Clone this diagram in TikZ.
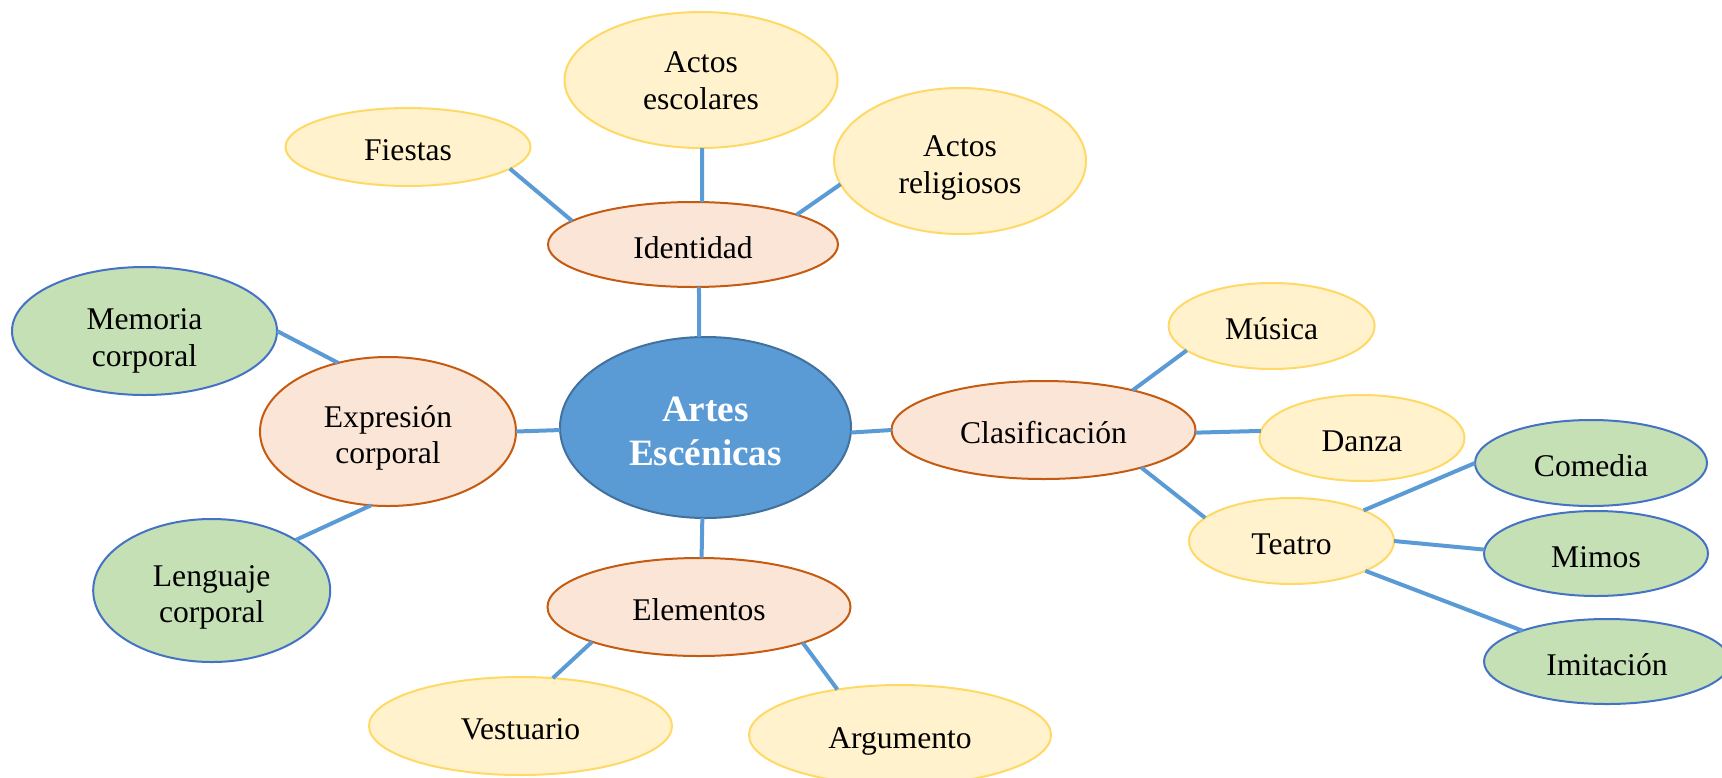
\documentclass[tikz,border=0pt]{standalone}
\usepackage{fontspec}
\setmainfont{Liberation Serif}
\usepackage{xcolor}
\usetikzlibrary{shapes.geometric}
\definecolor{coreFill}{HTML}{5B9BD5}
\definecolor{coreLine}{HTML}{41719C}
\definecolor{branchFill}{HTML}{FBE5D6}
\definecolor{branchLine}{HTML}{C55A11}
\definecolor{leafFill}{HTML}{FFF2CC}
\definecolor{leafLine}{HTML}{FFD966}
\definecolor{greenFill}{HTML}{C5E0B4}
\definecolor{greenLine}{HTML}{4472C4}
\definecolor{linkBlue}{HTML}{5B9BD5}
\tikzset{
ell/.style 2 args = {ellipse, inner sep=0pt, outer sep=0pt, align=center,
              minimum width=#1, minimum height=#2, line width=1pt,
              font=\fontsize{15.8}{18.3}\selectfont,
              text height=17.2pt, text depth=3.4pt}
}
\tikzset{
twoline/.style = {text height=#1, text depth=3.4pt},
twoline/.default = 35.7pt % moves both lines down a little
}
\tikzset{
core/.style = {draw=coreLine, fill=coreFill, text=white,
               font=\fontsize{18.6}{22}\selectfont\bfseries,
               text height=37.8pt, text depth=0pt}
}
\tikzset{
branch/.style = {draw=branchLine, fill=branchFill},
leaf/.style = {draw=leafLine, fill=leafFill},
subleaf/.style = {draw=greenLine, fill=greenFill}
}
\tikzset{
link/.style = {draw=linkBlue, line width=2pt}
}

\begin{document}
\begin{tikzpicture}[x=0.5pt, y=-0.5pt]
\useasboundingbox (0,0) rectangle (1722,777);

\node[ell={145.5pt}{90.5pt}, core] (artesEll) at (705.5,427.5) {Artes\\Escénicas};
\node[ell={145pt}{42.5pt}, branch] (identidadEll) at (693,244.5) {Identidad};
\node[ell={128pt}{74.5pt}, branch, twoline] (expresionEll) at (388,431.5) {Expresión\\corporal};
\node[ell={151.5pt}{49pt}, branch] (elementosEll) at (699,607) {Elementos};
\node[ell={152pt}{49pt}, branch] (clasifEll) at (1043.5,430) {Clasificación};
\node[ell={122.5pt}{39pt}, leaf] (fiestasEll) at (408,147) {Fiestas};
\node[ell={136.5pt}{68pt}, leaf, twoline=32.4pt] (escolaresEll) at (701,80) {Actos\\escolares};
\node[ell={126pt}{73pt}, leaf, twoline] (religiososEll) at (960,161) {Actos\\religiosos};
\node[ell={132.5pt}{64pt}, subleaf, twoline=38.7pt] (memoriaEll) at (144.5,331) {Memoria\\corporal};
\node[ell={118.5pt}{71.5pt}, subleaf, twoline] (lenguajeEll) at (211.7,590.5) {Lenguaje\\corporal};
\node[ell={151.5pt}{49pt}, leaf] (vestuarioEll) at (520.5,726) {Vestuario};
\node[ell={151pt}{50pt}, leaf] (argumentoEll) at (900,735) {Argumento};
\node[ell={103pt}{43pt}, leaf] (musicaEll) at (1271.6,326) {Música};
\node[ell={102.5pt}{43pt}, leaf] (danzaEll) at (1362,438) {Danza};
\node[ell={102.5pt}{43pt}, leaf] (teatroEll) at (1291.5,541) {Teatro};
\node[ell={116pt}{43pt}, subleaf] (comediaEll) at (1591,463) {Comedia};
\node[ell={112pt}{42.5pt}, subleaf] (mimosEll) at (1596,553.5) {Mimos};
\node[ell={123pt}{42.5pt}, subleaf] (imitacionEll) at (1607,661.5) {Imitación};

\draw[link] (identidadEll.-82) -- (artesEll.94);
\draw[link] (escolaresEll.-89) -- (identidadEll.78);
\draw[link] (fiestasEll.-12) -- (identidadEll.169.6);
\draw[link] (religiososEll.191.8) -- (identidadEll.16.3);
\draw[link] (expresionEll.0) -- (artesEll.181.6);
\draw[link] (memoriaEll.-0.4) -- (expresionEll.126.5);
\draw[link] (lenguajeEll.31.1) -- (expresionEll.-103.4);
\draw[link] (elementosEll.87.7) -- (artesEll.-92.8);
\draw[link] (vestuarioEll.56.6) -- (elementosEll.-162.5);
\draw[link] (argumentoEll.144.7) -- (elementosEll.-19.4);
\draw[link] (artesEll.-2.6) -- (clasifEll.180);
\draw[link] (clasifEll.24.5) -- (musicaEll.196.1);
\draw[link] (clasifEll.-1) -- (danzaEll.176.9);
\draw[link] (clasifEll.-21.8) -- (teatroEll.165.3);
\draw[link] (teatroEll.23.5) -- (comediaEll.180);
\draw[link] (teatroEll.-0.5) -- (mimosEll.178.7);
\draw[link] (teatroEll.-22.9) -- (imitacionEll.160.7);
\end{tikzpicture}
\end{document}
